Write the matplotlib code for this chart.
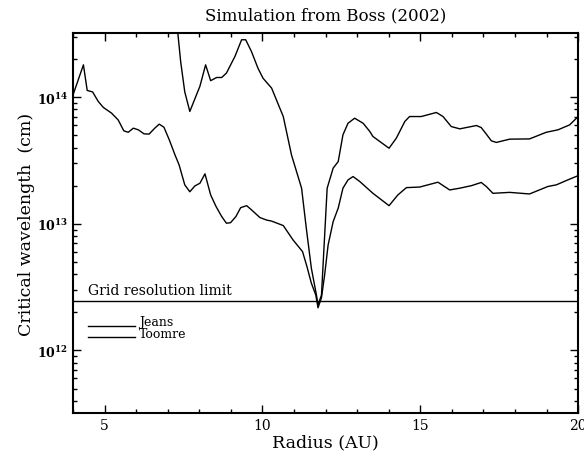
import matplotlib
matplotlib.use("Agg")
import matplotlib.pyplot as plt
import numpy as np
from matplotlib.ticker import LogLocator, MultipleLocator, FuncFormatter

plt.rcParams['font.family'] = ['DejaVu Serif']
plt.rcParams['mathtext.fontset'] = 'dejavuserif'

# lower curve (units of 1e13 cm)
r_low = [4.0, 4.33, 4.45, 4.62, 4.80, 4.96, 5.22, 5.43, 5.61, 5.75, 5.91, 6.07,
         6.25, 6.41, 6.59, 6.73, 6.88, 7.05, 7.23, 7.36, 7.54, 7.70, 7.86, 8.02,
         8.18, 8.36, 8.53, 8.71, 8.86, 8.99, 9.16, 9.31, 9.50, 9.65, 9.92, 10.13,
         10.29, 10.66, 10.97, 11.27, 11.41, 11.55, 11.69, 11.76, 11.87, 11.97,
         12.08, 12.24, 12.40, 12.55, 12.71, 12.87, 13.08, 13.50, 14.01, 14.29,
         14.56, 14.98, 15.56, 15.93, 16.25, 16.62, 16.93, 17.09, 17.30, 17.83,
         18.46, 19.04, 19.31, 19.67, 20.0]
lam_low = [10.4, 18.0, 11.3, 11.0, 9.25, 8.30, 7.48, 6.61, 5.42, 5.28, 5.69, 5.52,
           5.13, 5.11, 5.69, 6.12, 5.79, 4.60, 3.50, 2.92, 2.03, 1.79, 1.99, 2.09,
           2.48, 1.69, 1.37, 1.14, 1.01, 1.02, 1.14, 1.34, 1.39, 1.29, 1.12, 1.07,
           1.05, 0.968, 0.745, 0.603, 0.459, 0.339, 0.274, 0.217, 0.261, 0.394,
           0.679, 1.04, 1.33, 1.91, 2.22, 2.36, 2.16, 1.74, 1.39, 1.69,
           1.93, 1.95, 2.13, 1.85, 1.91, 2.00, 2.12, 1.97, 1.74, 1.77,
           1.72, 1.97, 2.03, 2.22, 2.40]

# upper curve (units of 1e13 cm)
r_up = [7.31, 7.41, 7.54, 7.70, 8.02, 8.20, 8.36, 8.55, 8.71, 8.86, 9.13, 9.34,
        9.47, 9.65, 9.86, 10.02, 10.29, 10.53, 10.66, 10.92, 11.24, 11.39, 11.55,
        11.71, 11.76, 11.87, 12.05, 12.24, 12.40, 12.55, 12.71, 12.92, 13.19,
        13.40, 13.50, 14.01, 14.24, 14.51, 14.66, 15.03, 15.51, 15.72, 15.98,
        16.25, 16.78, 16.93, 17.09, 17.25, 17.41, 17.83, 18.46, 18.99, 19.36,
        19.73, 20.0]
lam_up = [34.0, 19.1, 11.0, 7.71, 12.2, 18.0, 13.5, 14.3, 14.3, 15.5, 21.0, 28.4,
          28.4, 23.0, 16.9, 14.1, 11.8, 8.43, 7.03, 3.50, 1.91, 0.920, 0.445,
          0.274, 0.228, 0.274, 1.91, 2.75, 3.10, 5.04, 6.22, 6.82, 6.22,
          5.36, 4.89, 3.95, 4.74, 6.43, 7.03, 7.03, 7.57, 7.03, 5.86,
          5.62, 5.97, 5.75, 5.11, 4.52, 4.39, 4.66, 4.68, 5.28, 5.52,
          6.04, 7.03]

grid_limit = 2.44e12

fig = plt.figure(figsize=(5.84, 4.56), dpi=100)
ax = fig.add_axes([0.125, 0.092, 0.865, 0.833])

ax.plot(r_low, np.array(lam_low) * 1e13, color='black', lw=1.0)
ax.plot(r_up, np.array(lam_up) * 1e13, color='black', lw=1.0)
ax.axhline(grid_limit, color='black', lw=1.0)

ax.set_yscale('log')
ax.set_xlim(4, 20)
ax.set_ylim(3.2e11, 3.2e14)

ax.xaxis.set_major_locator(MultipleLocator(5))
ax.xaxis.set_minor_locator(MultipleLocator(1))
ax.yaxis.set_major_locator(LogLocator(base=10, numticks=10))
ax.yaxis.set_minor_locator(LogLocator(base=10, subs=np.arange(2, 10), numticks=20))
ax.yaxis.set_major_formatter(FuncFormatter(lambda v, p: r'$\mathbf{10^{%d}}$' % round(np.log10(v))))
ax.yaxis.set_minor_formatter(FuncFormatter(lambda v, p: ''))

ax.tick_params(which='both', direction='in', top=True, right=True, labelsize=9)
ax.tick_params(axis='x', labelsize=10)
ax.tick_params(which='major', length=6, width=1)
ax.tick_params(which='minor', length=3, width=1)
for s in ax.spines.values():
    s.set_linewidth(1.5)

ax.set_title('Simulation from Boss (2002)', fontsize=12, pad=10)
ax.set_xlabel('Radius (AU)', fontsize=12.5, labelpad=1)
ax.set_ylabel('Critical wavelength  (cm)', fontsize=12.5, labelpad=1)

ax.text(0.03, 0.313, 'Grid resolution limit', transform=ax.transAxes, fontsize=10,
        ha='left', va='baseline')

# legend entries
ax.plot([0.03, 0.123], [0.230, 0.230], transform=ax.transAxes, color='black', lw=1.0)
ax.plot([0.03, 0.123], [0.200, 0.200], transform=ax.transAxes, color='black', lw=1.0)
ax.text(0.131, 0.232, 'Jeans', transform=ax.transAxes, fontsize=9, va='baseline')
ax.text(0.131, 0.201, 'Toomre', transform=ax.transAxes, fontsize=9, va='baseline')

fig.savefig('out.png', dpi=100)
